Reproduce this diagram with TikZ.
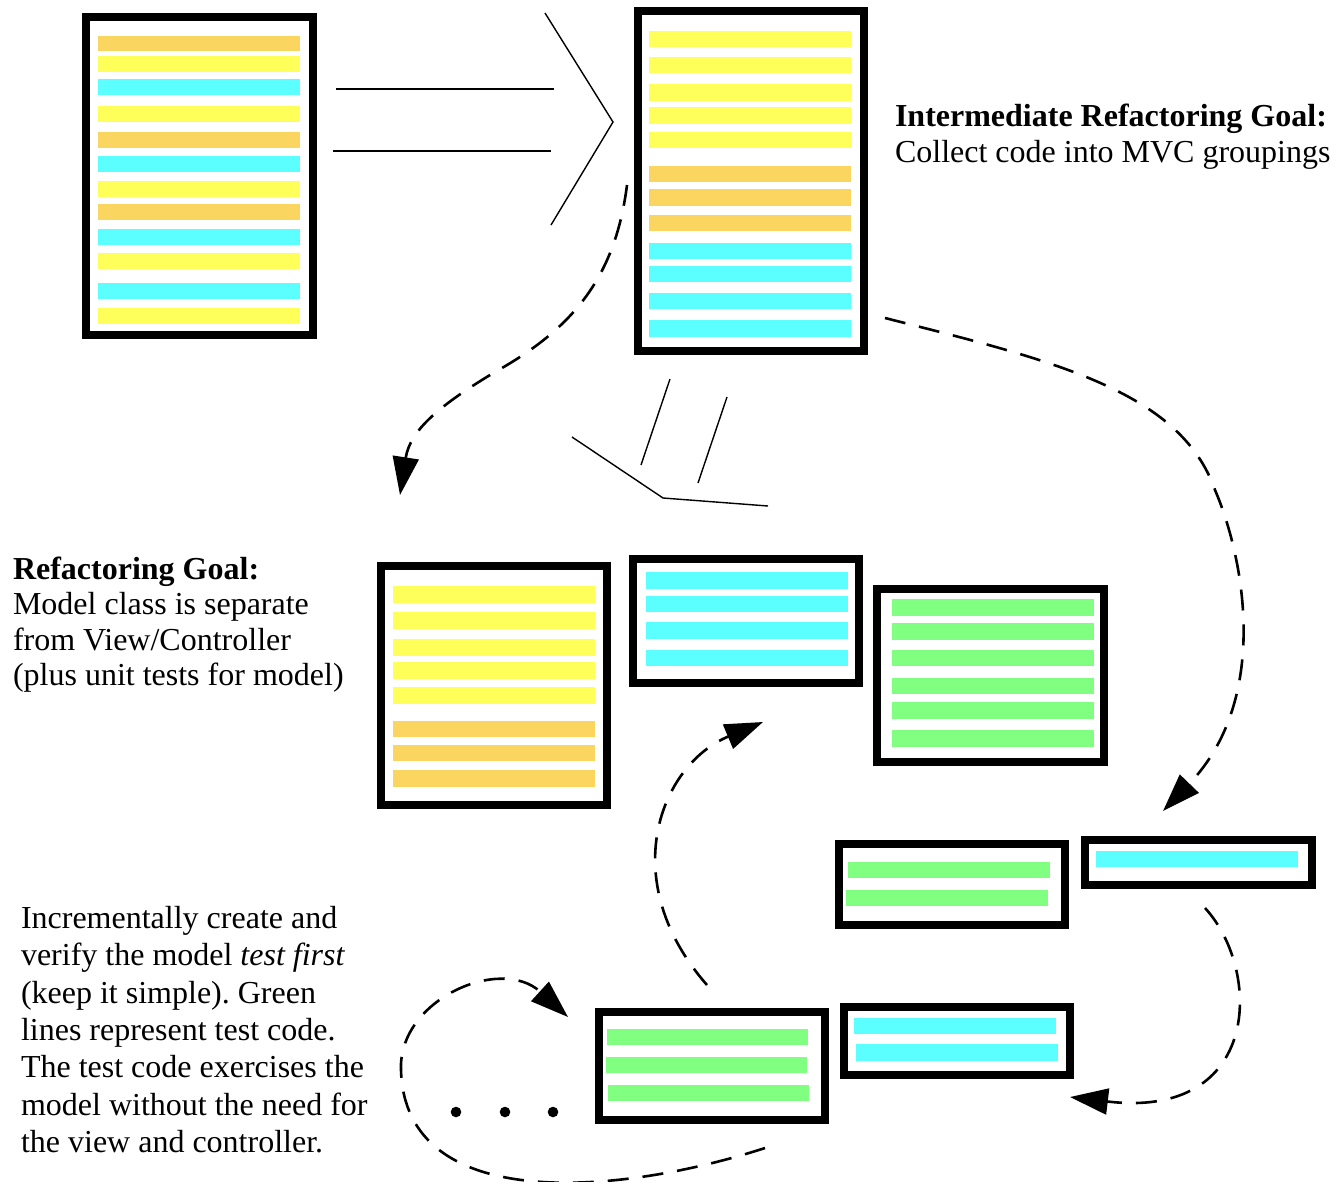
\documentclass[tikz,border=0pt]{standalone}
\usepackage{fontspec}
\setmainfont{Liberation Serif}
\usetikzlibrary{arrows.meta}
\definecolor{cy}{HTML}{5BFFFF}
\definecolor{yl}{HTML}{FFFF5A}
\definecolor{og}{HTML}{FAD660}
\definecolor{gr}{HTML}{80FF80}
\frenchspacing
\begin{document}
\begin{tikzpicture}[x=1pt,y=-1pt,
  codebox/.style={draw=black, line width=8pt, inner sep=0pt, outer sep=0pt},
  txt/.style={anchor=base west, inner sep=0pt, outer sep=0pt, font=\fontsize{32}{36}\selectfont},
  flow/.style={draw=black, line width=2.6pt, dash pattern=on 21pt off 14pt, -{Triangle[length=38pt,width=26pt]}},
  thinline/.style={draw=black, line width=1.4pt},
  thickline/.style={draw=black, line width=2.2pt}]
\useasboundingbox (0,0) rectangle (1340,1181);

% ---------- bars ----------
\foreach \c/\a/\b in {og/36/51, yl/56/72, cy/79/95, yl/106/122, og/132/148, cy/156/172, yl/181/197, og/204/220, cy/229/245, yl/253/269, cy/283/299, yl/308/324}
  \fill[\c] (98,\a) rectangle (300,\b);
\foreach \c/\a/\b in {yl/31/47, yl/57/73, yl/84/101, yl/107/124, yl/132/148, og/166/182, og/189/206, og/215/231, cy/243/259, cy/266/282, cy/293/309, cy/320/337}
  \fill[\c] (649,\a) rectangle (851,\b);
\foreach \c/\a/\b in {yl/586/603, yl/612/629, yl/639/656, yl/662/679, yl/687/704, og/721/737, og/745/761, og/770/787}
  \fill[\c] (393,\a) rectangle (595,\b);
\foreach \a/\b in {572/589, 596/612, 622/639, 650/666}
  \fill[cy] (646,\a) rectangle (848,\b);
\foreach \a/\b in {599/616, 623/640, 650/666, 678/694, 702/719, 730/747}
  \fill[gr] (892,\a) rectangle (1094,\b);
\fill[gr] (848,862) rectangle (1050,878);
\fill[gr] (846,890) rectangle (1048,906);
\fill[cy] (1096,851) rectangle (1298,867);
\fill[gr] (607,1029) rectangle (808,1045);
\fill[gr] (606,1057) rectangle (807,1073);
\fill[gr] (608,1085) rectangle (809,1101);
\fill[cy] (854,1018) rectangle (1056,1034);
\fill[cy] (856,1044) rectangle (1058,1061);

% ---------- boxes ----------
\node[codebox, minimum width=227pt, minimum height=318pt] (b1) at (199.5,176) {};
\node[codebox, minimum width=226pt, minimum height=340pt] (b2) at (751,181) {};
\node[codebox, minimum width=226pt, minimum height=239pt] (b3) at (494,685.5) {};
\node[codebox, minimum width=226pt, minimum height=124pt] (b4) at (746,621) {};
\node[codebox, minimum width=227pt, minimum height=173pt] (b5) at (990.5,675.5) {};
\node[codebox, minimum width=226pt, minimum height=81pt] (b6) at (952,884.5) {};
\node[codebox, minimum width=227pt, minimum height=45pt] (b7) at (1198.5,862.5) {};
\node[codebox, minimum width=226pt, minimum height=108pt] (b8) at (712,1066) {};
\node[codebox, minimum width=226pt, minimum height=68pt] (b9) at (957,1041) {};

% ---------- hand-drawn big arrows ----------
\draw[thickline] (336,89) -- (554,89);
\draw[thickline] (333,151) -- (551,151);
\draw[thinline] (545,13) -- (613,122) -- (551,225);
\draw[thinline] (572,437) -- (663,498) -- (768,506);
\draw[thinline] (670,379) -- (641,465);
\draw[thinline] (727,397) -- (698,483);

% ---------- dots ----------
\fill (456,1112) circle (5.3pt);
\fill (505,1112) circle (5.3pt);
\fill (553,1112) circle (5.3pt);

% ---------- dashed arrows ----------
\coordinate (aS) at (627,185);
\coordinate (aM) at (495,372);
\coordinate (aE) at (400,495);
\draw[flow] (aS) .. controls (615,280) and (570,330) .. (aM) .. controls (440,405) and (410,430) .. (aE);

\coordinate (bS) at (885,318);
\coordinate (bM) at (1215,490);
\coordinate (bE) at (1163,811);
\draw[flow] (bS) .. controls (1050,360) and (1180,390) .. (bM) .. controls (1245,560) and (1270,700) .. (bE);

\coordinate (cS) at (707,985);
\coordinate (cE) at (763,722);
\draw[flow] (cS) .. controls (615,880) and (660,765) .. (cE);

\coordinate (dS) at (1205,908);
\coordinate (dE) at (1070,1097);
\draw[flow] (dS) .. controls (1262,970) and (1262,1120) .. (dE);

\coordinate (eS) at (765,1148);
\coordinate (eM) at (401,1070);
\coordinate (eE) at (568,1017);
\draw[flow] (eS) .. controls (620,1195) and (405,1215) .. (eM) .. controls (398,1000) and (500,955) .. (eE);

% ---------- texts ----------
\node[txt] (t1) at (895,126) {\textbf{Intermediate Refactoring Goal:}};
\node[txt] (t2) at (895,162) {Collect code into MVC groupings};

\node[txt] (r1) at (13,579) {\textbf{Refactoring Goal:}};
\node[txt] (r2) at (13,614) {Model class is separate};
\node[txt] (r3) at (13,650) {from View/Controller};
\node[txt] (r4) at (13,685) {(plus unit tests for model)};

\node[txt] (s1) at (21,928) {Incrementally create and};
\node[txt] (s2) at (21,965) {verify the model \textit{test first}};
\node[txt] (s3) at (21,1003) {(keep it simple). Green};
\node[txt] (s4) at (21,1040) {lines represent test code.};
\node[txt] (s5) at (21,1077) {The test code exercises the};
\node[txt] (s6) at (21,1115) {model without the need for};
\node[txt] (s7) at (21,1152) {the view and controller.};
\end{tikzpicture}
\end{document}
